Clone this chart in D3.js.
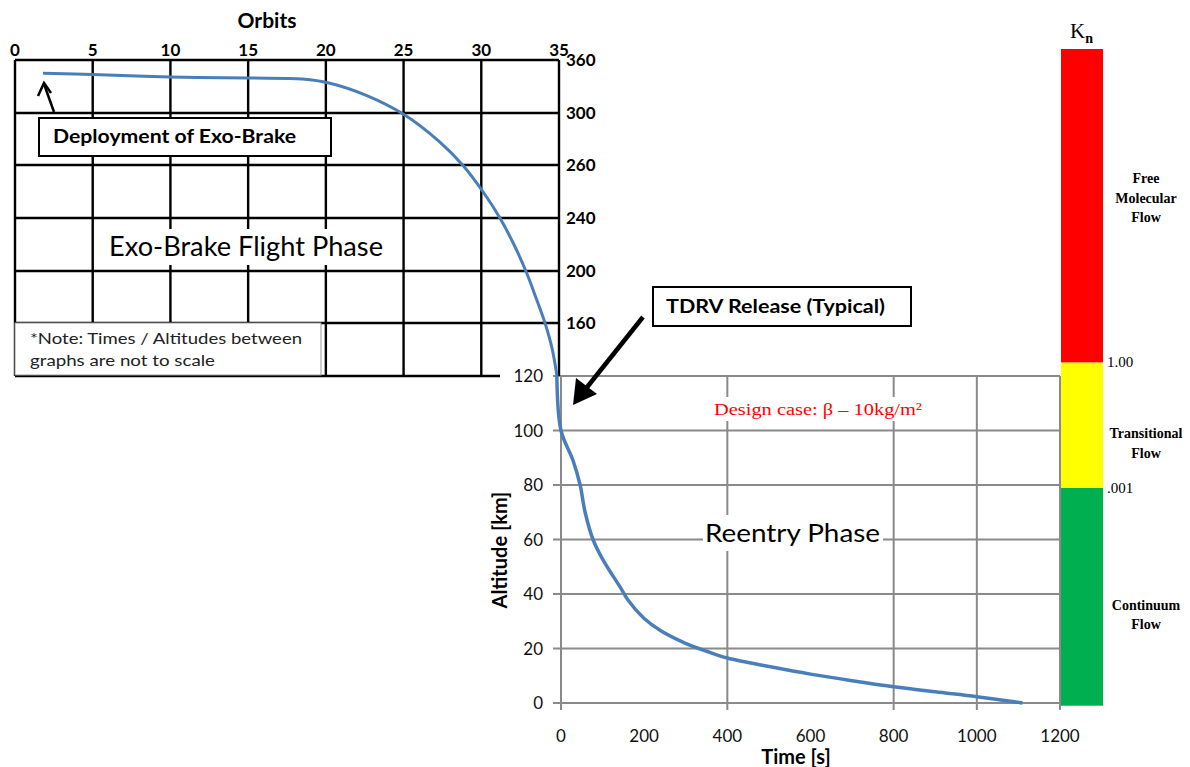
<!DOCTYPE html>
<html>
<head>
<meta charset="utf-8">
<script src="https://cdn.jsdelivr.net/npm/d3@7"></script>
<style>
  body { margin: 0; background: #fff; }
  svg { display: block; }
</style>
</head>
<body>
<script>
// ---- data ----
var orbitTicks = [0, 5, 10, 15, 20, 25, 30, 35];
var upperAltTicks = [360, 300, 260, 240, 200, 160, 120];   // uneven labels, as in the source
var upperOrbit = [1.8, 5, 10, 15, 18.5, 20.2, 22.6, 25, 27.3, 28.8, 30.1, 31.2, 32.1, 32.9, 33.5, 34.1, 34.55, 34.87];
var upperAlt   = [345, 343.6, 340.8, 339.6, 338.5, 334, 320, 299, 278, 260, 250, 240, 220, 199, 180, 160, 141, 120];

var timeTicks = [0, 200, 400, 600, 800, 1000, 1200];
var timeGrid = [400, 800, 1000, 1200];
var lowerAltTicks = [0, 20, 40, 60, 80, 100, 120];
var lowerTime = [-10, 0, 29, 46, 58, 77, 101, 142, 161, 200, 240, 298, 350, 400, 507, 600, 700, 800, 900, 1000, 1110];
var lowerAlt  = [120, 100, 89, 80, 70, 60, 52.5, 42.6, 37.8, 31, 26.5, 22, 19, 16.5, 13.2, 10.6, 8.2, 6.0, 4.1, 2.3, 0];

// Knudsen bar, band edges on the reentry altitude scale
var knEdges = [-1, 79, 125, 240];
var knColors = ['#00b050', '#ffff00', '#ff0000'];
var knEdgeLabels = ['.001', '1.00'];
var knBandLabels = [['Continuum', 'Flow'], ['Transitional', 'Flow'], ['Free', 'Molecular', 'Flow']];

var width = 1190, height = 767;
var blue = '#4a7ebb';
var sans = 'Lato, "Open Sans", sans-serif';
var serif = '"Liberation Serif", "DejaVu Serif", serif';

var svg = d3.select('body').append('svg')
  .attr('width', width)
  .attr('height', height);

// ---- scales ----
var xOrb = d3.scaleLinear().domain([0, 35]).range([15, 559]);
var yUp = d3.scaleLinear()
  .domain([120, 160, 200, 240, 260, 300, 360])
  .range([376, 323, 271, 218, 165, 113, 60]);
var xTime = d3.scaleLinear().domain([0, 1200]).range([561, 1060]);
var yLow = d3.scaleLinear().domain([0, 120]).range([703, 376]);

// ---- lower chart (reentry) grid ----
var low = svg.append('g');
low.selectAll('.hg').data(lowerAltTicks).enter().append('line')
  .attr('x1', xTime(0) - 8).attr('x2', xTime(1200))
  .attr('y1', function(d) { return yLow(d); })
  .attr('y2', function(d) { return yLow(d); })
  .attr('stroke', '#8a8a8a').attr('stroke-width', 2);
low.selectAll('.vg').data(timeGrid).enter().append('line')
  .attr('x1', function(d) { return xTime(d); })
  .attr('x2', function(d) { return xTime(d); })
  .attr('y1', yLow(120)).attr('y2', yLow(0) + 7)
  .attr('stroke', '#8a8a8a').attr('stroke-width', 2);
low.append('line')
  .attr('x1', xTime(0)).attr('x2', xTime(0))
  .attr('y1', yLow(120)).attr('y2', yLow(0) + 7)
  .attr('stroke', '#8a8a8a').attr('stroke-width', 2);

// ---- upper chart (orbits) grid ----
var up = svg.append('g');
up.selectAll('.vg').data(orbitTicks).enter().append('line')
  .attr('x1', function(d) { return xOrb(d); })
  .attr('x2', function(d) { return xOrb(d); })
  .attr('y1', yUp(360)).attr('y2', yUp(120))
  .attr('stroke', '#000').attr('stroke-width', 2.4);
up.selectAll('.hg').data(upperAltTicks.filter(function(d) { return d > 120; })).enter().append('line')
  .attr('x1', xOrb(0)).attr('x2', xOrb(35))
  .attr('y1', function(d) { return yUp(d); })
  .attr('y2', function(d) { return yUp(d); })
  .attr('stroke', '#000').attr('stroke-width', 2.4);
// bottom edge stops short of the shared 120 label
up.append('line')
  .attr('x1', xOrb(0)).attr('x2', 500)
  .attr('y1', yUp(120)).attr('y2', yUp(120))
  .attr('stroke', '#000').attr('stroke-width', 2.4);

// upper tick labels
up.selectAll('.xl').data(orbitTicks).enter().append('text')
  .attr('x', function(d) { return xOrb(d); })
  .attr('y', 56)
  .attr('text-anchor', 'middle')
  .style('font', 'bold 17px ' + sans)
  .text(function(d) { return d; });
up.selectAll('.yl').data(upperAltTicks.filter(function(d) { return d > 120; })).enter().append('text')
  .attr('x', 566)
  .attr('y', function(d) { return yUp(d) + 6; })
  .style('font', 'bold 17px ' + sans)
  .text(function(d) { return d; });
up.append('text')
  .attr('x', 267).attr('y', 28)
  .attr('text-anchor', 'middle')
  .style('font', 'bold 21px ' + sans)
  .text('Orbits');

// ---- boxes / labels in the upper chart ----
up.append('rect')
  .attr('x', 105).attr('y', 229).attr('width', 284).attr('height', 36)
  .attr('fill', '#fff');
up.append('text')
  .attr('x', 109).attr('y', 256)
  .attr('textLength', 274).attr('lengthAdjust', 'spacingAndGlyphs')
  .style('font', '27px ' + sans)
  .text('Exo-Brake Flight Phase');

up.append('rect')
  .attr('x', 15).attr('y', 323).attr('width', 306).attr('height', 52)
  .attr('fill', '#fff').attr('stroke', '#999').attr('stroke-width', 1);
up.append('text')
  .attr('x', 30).attr('y', 344)
  .attr('textLength', 272).attr('lengthAdjust', 'spacingAndGlyphs')
  .style('font', '15px ' + sans).attr('fill', '#222')
  .text('*Note: Times / Altitudes between');
up.append('text')
  .attr('x', 30).attr('y', 366)
  .attr('textLength', 185).attr('lengthAdjust', 'spacingAndGlyphs')
  .style('font', '15px ' + sans).attr('fill', '#222')
  .text('graphs are not to scale');

up.append('rect')
  .attr('x', 39).attr('y', 118).attr('width', 292).attr('height', 38)
  .attr('fill', '#fff').attr('stroke', '#000').attr('stroke-width', 2);
up.append('text')
  .attr('x', 53).attr('y', 143)
  .attr('textLength', 243).attr('lengthAdjust', 'spacingAndGlyphs')
  .style('font', 'bold 18px ' + sans)
  .text('Deployment of Exo-Brake');

// deployment arrow (open head)
up.append('line')
  .attr('x1', 54).attr('y1', 112).attr('x2', 44).attr('y2', 84)
  .attr('stroke', '#000').attr('stroke-width', 2.5);
up.append('path')
  .attr('d', 'M38,96 L44,83 L51,93')
  .attr('fill', 'none').attr('stroke', '#000').attr('stroke-width', 2.5);

// ---- lower chart labels ----
low.append('rect')
  .attr('x', 503).attr('y', 364).attr('width', 48).attr('height', 24)
  .attr('fill', '#fff');
low.selectAll('.yl').data(lowerAltTicks).enter().append('text')
  .attr('x', 543)
  .attr('y', function(d) { return yLow(d) + 6; })
  .attr('text-anchor', 'end')
  .attr('fill', '#111')
  .style('font', '17px ' + sans)
  .text(function(d) { return d; });
low.selectAll('.xl').data(timeTicks).enter().append('text')
  .attr('x', function(d) { return xTime(d); })
  .attr('y', 742)
  .attr('text-anchor', 'middle')
  .attr('fill', '#111')
  .style('font', '17px ' + sans)
  .text(function(d) { return d; });
low.append('text')
  .attr('x', 796).attr('y', 764)
  .attr('text-anchor', 'middle')
  .style('font', 'bold 20px ' + sans)
  .text('Time [s]');
low.append('text')
  .attr('transform', 'translate(507,550) rotate(-90)')
  .attr('text-anchor', 'middle')
  .style('font', 'bold 20px ' + sans)
  .text('Altitude [km]');

low.append('rect')
  .attr('x', 703).attr('y', 515).attr('width', 180).attr('height', 36)
  .attr('fill', '#fff');
low.append('text')
  .attr('x', 705).attr('y', 542)
  .attr('textLength', 175).attr('lengthAdjust', 'spacingAndGlyphs')
  .style('font', '25px ' + sans)
  .text('Reentry Phase');

low.append('rect')
  .attr('x', 711).attr('y', 397).attr('width', 214).attr('height', 24)
  .attr('fill', '#fff');
low.append('text')
  .attr('x', 714).attr('y', 415)
  .attr('textLength', 208).attr('lengthAdjust', 'spacingAndGlyphs')
  .attr('fill', '#ff0000')
  .style('font', '17px ' + serif)
  .text('Design case: \u03b2 \u2013 10kg/m\u00b2');

// ---- curves ----
var upperPts = upperOrbit.map(function(o, i) { return [o, upperAlt[i]]; });
var lowerPts = lowerTime.map(function(t, i) { return [t, lowerAlt[i]]; });

svg.append('path')
  .datum(upperPts)
  .attr('fill', 'none').attr('stroke', blue).attr('stroke-width', 3)
  .attr('d', d3.line()
    .x(function(d) { return xOrb(d[0]); })
    .y(function(d) { return yUp(d[1]); })
    .curve(d3.curveCatmullRom.alpha(0.5)));
svg.append('path')
  .datum(lowerPts)
  .attr('fill', 'none').attr('stroke', blue).attr('stroke-width', 3.5)
  .attr('d', d3.line()
    .x(function(d) { return xTime(d[0]); })
    .y(function(d) { return yLow(d[1]); })
    .curve(d3.curveCatmullRom.alpha(0.5)));

// ---- TDRV release box + arrow ----
svg.append('rect')
  .attr('x', 653).attr('y', 287).attr('width', 258).attr('height', 39)
  .attr('fill', '#fff').attr('stroke', '#000').attr('stroke-width', 2);
svg.append('text')
  .attr('x', 666).attr('y', 313)
  .attr('textLength', 219).attr('lengthAdjust', 'spacingAndGlyphs')
  .style('font', 'bold 18px ' + sans)
  .text('TDRV Release (Typical)');

svg.append('line')
  .attr('x1', 643).attr('y1', 317).attr('x2', 584).attr('y2', 391)
  .attr('stroke', '#000').attr('stroke-width', 4.5);
svg.append('path')
  .attr('d', 'M573,405 L576,378 L597,394 Z')
  .attr('fill', '#000');

// ---- Knudsen number bar ----
var kn = svg.append('g');
kn.selectAll('rect').data(knColors).enter().append('rect')
  .attr('x', 1061).attr('width', 42)
  .attr('y', function(d, i) { return yLow(knEdges[i + 1]); })
  .attr('height', function(d, i) { return yLow(knEdges[i]) - yLow(knEdges[i + 1]); })
  .attr('fill', function(d) { return d; });

kn.selectAll('.edge').data(knEdgeLabels).enter().append('text')
  .attr('x', 1107)
  .attr('y', function(d, i) { return yLow(knEdges[i + 1]) + 5; })
  .style('font', '15px ' + serif)
  .text(function(d) { return d; });

var labelShift = [18, 18, -8];
knBandLabels.forEach(function(lines, i) {
  var mid = (yLow(knEdges[i]) + yLow(knEdges[i + 1])) / 2 + labelShift[i];
  var t = kn.append('text')
    .attr('x', 1146)
    .attr('text-anchor', 'middle')
    .style('font', 'bold 14px ' + serif);
  lines.forEach(function(s, j) {
    t.append('tspan')
      .attr('x', 1146)
      .attr('y', mid + 5 + (j - (lines.length - 1) / 2) * 19.5)
      .text(s);
  });
});

var knTitle = kn.append('text')
  .attr('x', 1070).attr('y', 38)
  .style('font', '21px ' + serif);
knTitle.append('tspan').text('K');
knTitle.append('tspan').attr('dy', 5).style('font', 'bold 14px ' + serif).text('n');
</script>
</body>
</html>
